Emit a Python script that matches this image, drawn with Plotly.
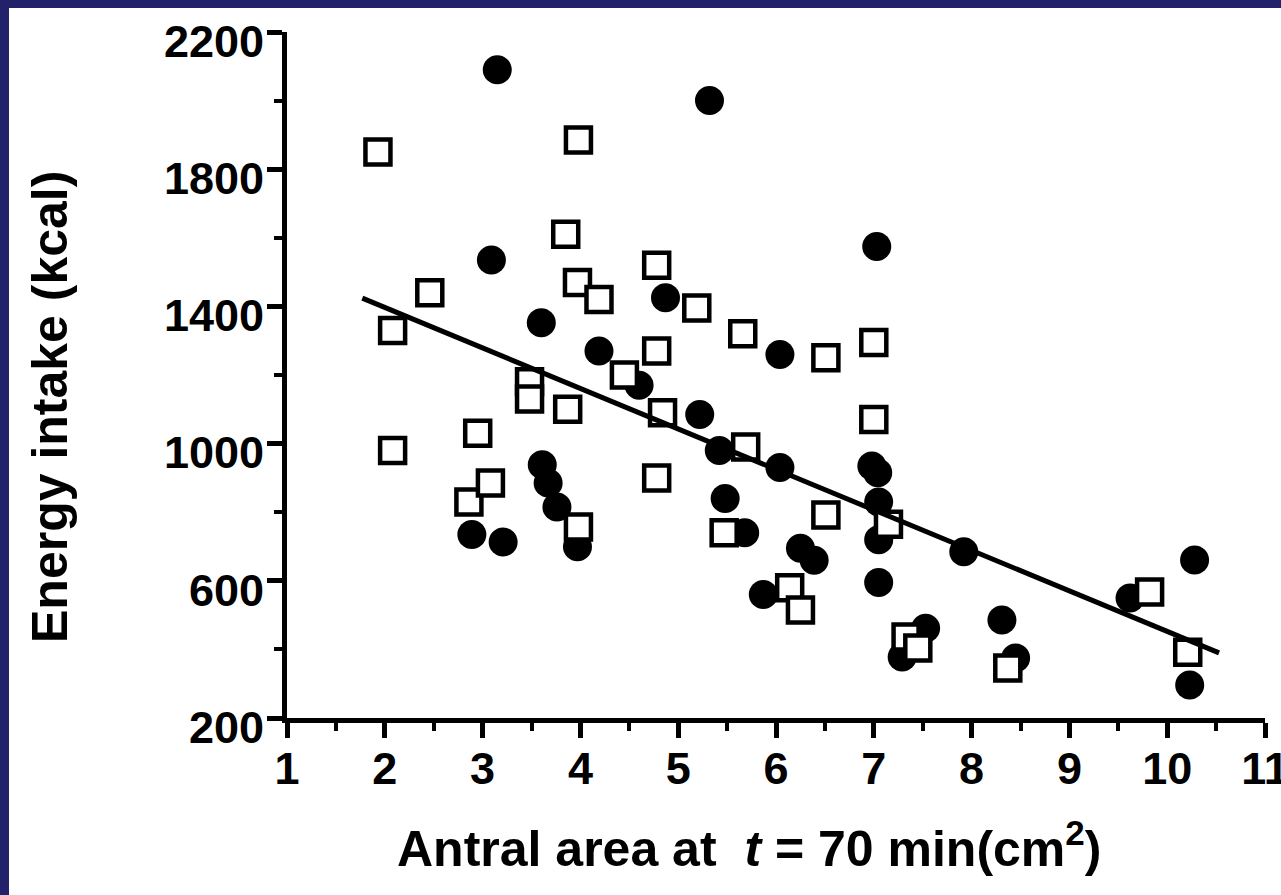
import plotly.graph_objects as go

# Filled circles (one group)
circle_x = [3.15, 5.32, 7.03, 3.09, 4.87, 3.60, 4.19, 6.04, 4.60, 5.22,
            5.42, 6.04, 6.98, 7.04, 3.61, 3.67, 3.76, 3.97, 2.89, 3.21,
            5.48, 7.05, 5.68, 7.05, 6.25, 6.39, 7.92, 7.05, 5.87, 7.53,
            7.29, 8.31, 8.45, 9.62, 10.28, 10.23]
circle_y = [2090, 2000, 1575, 1535, 1425, 1352, 1270, 1260, 1170, 1085,
            980, 930, 935, 915, 938, 885, 815, 699, 735, 713,
            840, 830, 740, 720, 695, 660, 685, 595, 560, 462,
            378, 486, 375, 550, 661, 296]

# Open squares (other group)
square_x = [1.93, 2.08, 2.08, 2.46, 2.95, 2.86, 3.08, 3.48, 3.48, 3.85,
            3.98, 3.97, 4.19, 3.87, 3.98, 4.45, 4.78, 4.78, 4.84, 4.78,
            5.19, 5.66, 5.69, 5.47, 6.51, 6.51, 7.00, 7.00, 7.15, 6.14,
            6.25, 7.33, 7.45, 8.37, 9.82, 10.21]
square_y = [1850, 1330, 980, 1440, 1030, 830, 885, 1180, 1130, 1610,
            1885, 1470, 1420, 1100, 757, 1200, 1520, 1270, 1090, 900,
            1395, 1320, 990, 740, 1250, 792, 1295, 1070, 765, 580,
            515, 436, 404, 346, 567, 392]

# Regression line end points
line_x = [1.77, 10.53]
line_y = [1424, 390]

x_ticks = [1, 2, 3, 4, 5, 6, 7, 8, 9, 10, 11]
y_ticks = [200, 600, 1000, 1400, 1800, 2200]

x_title = "Antral area at  <i>t</i> = 70 min(cm<sup>2</sup>)"
y_title = "Energy intake (kcal)"

FONT = "Liberation Sans, Arial, Helvetica, sans-serif"

fig = go.Figure()
fig.add_trace(go.Scatter(
    x=circle_x, y=circle_y, mode="markers",
    marker=dict(symbol="circle", size=29, color="black", line=dict(width=0)),
    showlegend=False, cliponaxis=False))
fig.add_trace(go.Scatter(
    x=square_x, y=square_y, mode="markers",
    marker=dict(symbol="square", size=25, color="white",
                line=dict(color="black", width=4.5)),
    showlegend=False, cliponaxis=False))
fig.add_trace(go.Scatter(
    x=line_x, y=line_y, mode="lines",
    line=dict(color="black", width=5),
    showlegend=False))

axis_common = dict(
    showgrid=False, zeroline=False, showline=True, linecolor="black",
    linewidth=5, ticks="outside", tickcolor="black", tickwidth=5,
    ticklen=15, tickfont=dict(family=FONT, size=45, color="black", weight="bold"),
    ticklabeloverflow="allow",
)

fig.update_xaxes(
    range=[1, 11], tickvals=x_ticks, ticktext=[str(v) for v in x_ticks],
    minor=dict(dtick=0.5, tick0=1, ticks="outside", ticklen=8, tickwidth=4,
               tickcolor="black", showgrid=False),
    ticklabelstandoff=-8,
    **axis_common)
fig.update_yaxes(
    range=[200, 2200], tickvals=y_ticks, ticktext=[str(v) for v in y_ticks],
    minor=dict(dtick=200, tick0=200, ticks="outside", ticklen=8, tickwidth=4,
               tickcolor="black", showgrid=False),
    ticklabelstandoff=-6, ticklabelshift=9,
    **axis_common)

# plot-area pixel frame (used to place paper-referenced items)
L, R, T, B = 287, 1265, 32, 718
W, H = R - L, B - T

# white panel inside navy frame
fig.add_shape(type="rect", xref="paper", yref="paper", layer="below",
              x0=(9 - L) / W, x1=(1300 - L) / W,
              y0=(B - 910) / H, y1=(B - 8) / H,
              fillcolor="white", line=dict(width=0))

fig.add_annotation(text=x_title, xref="paper", yref="paper",
                   x=(749 - L) / W, y=(B - 845) / H,
                   xanchor="center", yanchor="middle", showarrow=False,
                   font=dict(family=FONT, size=50, color="black", weight="bold"))
fig.add_annotation(text=y_title, xref="paper", yref="paper",
                   x=(50 - L) / W, y=(B - 407) / H, textangle=-90,
                   xanchor="center", yanchor="middle", showarrow=False,
                   font=dict(family=FONT, size=50, color="black", weight="bold"))

fig.update_layout(
    width=1281, height=895,
    margin=dict(l=L, r=1281 - R, t=T, b=895 - B, autoexpand=False),
    paper_bgcolor="#22226b", plot_bgcolor="white",
    font=dict(family=FONT, color="black"),
)

fig.write_html("out.html",
               config={"displayModeBar": False},
               post_script="document.body.style.margin='0';"
                           "document.body.style.overflow='hidden';")
